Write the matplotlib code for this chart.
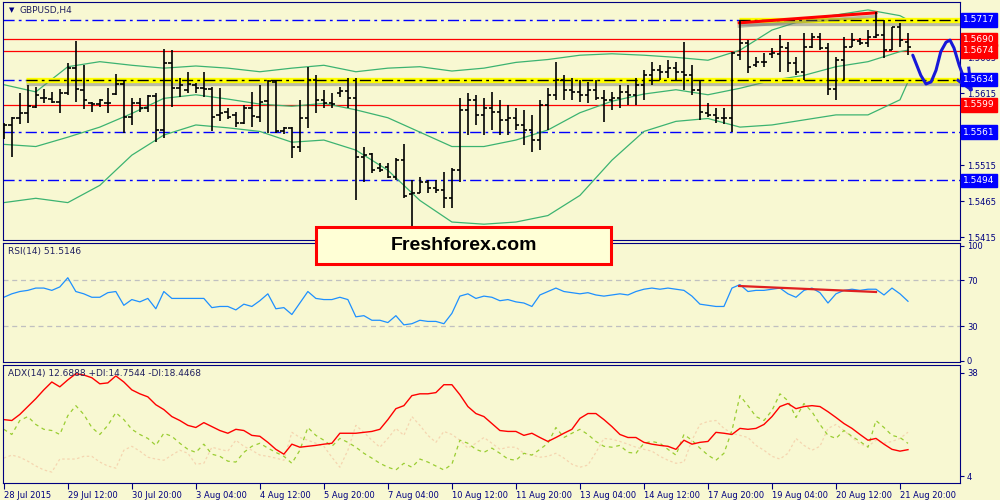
#!/usr/bin/env python3
'''
GBPUSD H4 chart with Bollinger bands, RSI and ADX panels
'''
import numpy as np
import matplotlib.pyplot as plt
import matplotlib.patheffects as pe
from matplotlib.patches import Rectangle

# ---- price bars (H4) ----
opens = [1.5561, 1.5571, 1.5581, 1.5587, 1.5596, 1.5608, 1.5607, 1.5603, 1.5615, 1.5650,
         1.5620, 1.5601, 1.5600, 1.5601, 1.5614, 1.5628, 1.5582, 1.5601, 1.5594, 1.5611,
         1.5564, 1.5657, 1.5622, 1.5620, 1.5627, 1.5622, 1.5621, 1.5585, 1.5589, 1.5585,
         1.5574, 1.5594, 1.5582, 1.5604, 1.5631, 1.5562, 1.5567, 1.5541, 1.5581, 1.5633,
         1.5606, 1.5601, 1.5615, 1.5618, 1.5608, 1.5526, 1.5530, 1.5511, 1.5512, 1.5498,
         1.5522, 1.5475, 1.5477, 1.5491, 1.5483, 1.5481, 1.5469, 1.5508, 1.5592, 1.5606,
         1.5585, 1.5594, 1.5589, 1.5578, 1.5581, 1.5571, 1.5564, 1.5550, 1.5599, 1.5613,
         1.5633, 1.5620, 1.5617, 1.5613, 1.5620, 1.5608, 1.5606, 1.5608, 1.5617, 1.5613,
         1.5627, 1.5640, 1.5647, 1.5645, 1.5650, 1.5645, 1.5640, 1.5620, 1.5587, 1.5585,
         1.5581, 1.5581, 1.5668, 1.5685, 1.5654, 1.5659, 1.5670, 1.5670, 1.5678, 1.5657,
         1.5645, 1.5679, 1.5693, 1.5678, 1.5621, 1.5661, 1.5679, 1.5688, 1.5685, 1.5693,
         1.5696, 1.5675, 1.5707, 1.5686]
highs = [1.5574, 1.5582, 1.5615, 1.5627, 1.5624, 1.5621, 1.5617, 1.5621, 1.5657, 1.5688,
         1.5654, 1.5603, 1.5607, 1.5622, 1.5642, 1.5632, 1.5608, 1.5608, 1.5613, 1.5615,
         1.5677, 1.5675, 1.5636, 1.5645, 1.5629, 1.5645, 1.5624, 1.5622, 1.5594, 1.5589,
         1.5599, 1.5617, 1.5627, 1.5633, 1.5633, 1.5568, 1.5568, 1.5606, 1.5652, 1.5640,
         1.5620, 1.5615, 1.5624, 1.5636, 1.5636, 1.5540, 1.5532, 1.5518, 1.5518, 1.5525,
         1.5544, 1.5494, 1.5498, 1.5494, 1.5495, 1.5505, 1.5511, 1.5608, 1.5615, 1.5613,
         1.5608, 1.5617, 1.5606, 1.5599, 1.5594, 1.5592, 1.5585, 1.5606, 1.5622, 1.5659,
         1.5640, 1.5636, 1.5633, 1.5631, 1.5633, 1.5620, 1.5617, 1.5627, 1.5627, 1.5636,
         1.5647, 1.5659, 1.5654, 1.5661, 1.5659, 1.5686, 1.5654, 1.5633, 1.5601, 1.5594,
         1.5594, 1.5673, 1.5717, 1.5689, 1.5666, 1.5671, 1.5678, 1.5696, 1.5686, 1.5666,
         1.5699, 1.5699, 1.5699, 1.5685, 1.5666, 1.5693, 1.5699, 1.5692, 1.5703, 1.5728,
         1.5717, 1.5707, 1.5713, 1.5699]
lows = [1.5551, 1.5526, 1.5572, 1.5574, 1.5594, 1.5601, 1.5601, 1.5587, 1.5613, 1.5603,
        1.5593, 1.5589, 1.5596, 1.5587, 1.5613, 1.5560, 1.5571, 1.5589, 1.5589, 1.5547,
        1.5553, 1.5596, 1.5610, 1.5615, 1.5615, 1.5610, 1.5562, 1.5576, 1.5579, 1.5568,
        1.5572, 1.5568, 1.5575, 1.5560, 1.5560, 1.5558, 1.5525, 1.5533, 1.5567, 1.5587,
        1.5594, 1.5594, 1.5610, 1.5594, 1.5466, 1.5491, 1.5504, 1.5505, 1.5497, 1.5494,
        1.5470, 1.5431, 1.5476, 1.5477, 1.5477, 1.5456, 1.5456, 1.5491, 1.5557, 1.5571,
        1.5557, 1.5564, 1.5557, 1.5557, 1.5564, 1.5543, 1.5533, 1.5536, 1.5564, 1.5606,
        1.5606, 1.5606, 1.5603, 1.5601, 1.5606, 1.5575, 1.5592, 1.5594, 1.5599, 1.5599,
        1.5606, 1.5627, 1.5633, 1.5636, 1.5633, 1.5620, 1.5613, 1.5578, 1.5582, 1.5574,
        1.5572, 1.5561, 1.5661, 1.5643, 1.5652, 1.5652, 1.5664, 1.5645, 1.5645, 1.5640,
        1.5633, 1.5678, 1.5675, 1.5613, 1.5606, 1.5633, 1.5679, 1.5682, 1.5679, 1.5692,
        1.5664, 1.5675, 1.5679, 1.5668]
closes = [1.5571, 1.5581, 1.5587, 1.5597, 1.5613, 1.5608, 1.5603, 1.5615, 1.5650, 1.5621,
          1.5606, 1.5600, 1.5606, 1.5601, 1.5628, 1.5582, 1.5601, 1.5594, 1.5611, 1.5564,
          1.5657, 1.5622, 1.5627, 1.5628, 1.5622, 1.5621, 1.5582, 1.5587, 1.5582, 1.5574,
          1.5594, 1.5583, 1.5603, 1.5632, 1.5562, 1.5567, 1.5540, 1.5581, 1.5633, 1.5606,
          1.5601, 1.5600, 1.5618, 1.5608, 1.5526, 1.5529, 1.5509, 1.5509, 1.5498, 1.5522,
          1.5472, 1.5477, 1.5491, 1.5484, 1.5481, 1.5470, 1.5509, 1.5592, 1.5606, 1.5585,
          1.5594, 1.5589, 1.5578, 1.5581, 1.5571, 1.5564, 1.5550, 1.5599, 1.5613, 1.5633,
          1.5620, 1.5617, 1.5613, 1.5620, 1.5608, 1.5606, 1.5608, 1.5617, 1.5613, 1.5627,
          1.5640, 1.5647, 1.5645, 1.5650, 1.5645, 1.5640, 1.5620, 1.5589, 1.5585, 1.5581,
          1.5581, 1.5671, 1.5685, 1.5652, 1.5659, 1.5659, 1.5671, 1.5679, 1.5657, 1.5645,
          1.5679, 1.5693, 1.5678, 1.5621, 1.5661, 1.5679, 1.5689, 1.5685, 1.5693, 1.5696,
          1.5675, 1.5707, 1.5689, 1.5679]

# ---- Bollinger bands, read every 4 bars ----
bb_idx = list(range(0, 113, 4)) + [113]
bb_upper = [1.5627, 1.5617, 1.5652, 1.5659, 1.5654, 1.5650, 1.5653, 1.5650, 1.5645, 1.5650,
            1.5654, 1.5645, 1.5650, 1.5652, 1.5646, 1.5650, 1.5658, 1.5662, 1.5668, 1.5670,
            1.5668, 1.5665, 1.5661, 1.5675, 1.5703, 1.5717, 1.5724, 1.5731, 1.5723, 1.5717]
bb_middle = [1.5544, 1.5541, 1.5554, 1.5568, 1.5587, 1.5608, 1.5613, 1.5607, 1.5600, 1.5597,
             1.5601, 1.5592, 1.5581, 1.5561, 1.5541, 1.5541, 1.5550, 1.5564, 1.5588, 1.5604,
             1.5614, 1.5620, 1.5613, 1.5622, 1.5633, 1.5640, 1.5652, 1.5659, 1.5673, 1.5675]
bb_lower = [1.5463, 1.5469, 1.5463, 1.5487, 1.5529, 1.5557, 1.5571, 1.5567, 1.5562, 1.5547,
            1.5550, 1.5536, 1.5508, 1.5466, 1.5436, 1.5433, 1.5436, 1.5445, 1.5473, 1.5522,
            1.5562, 1.5576, 1.5580, 1.5568, 1.5571, 1.5578, 1.5585, 1.5585, 1.5606, 1.5631]

# ---- indicators ----
rsi = [55, 58, 60, 61, 63, 63, 61, 64, 72, 60,
       58, 55, 55, 59, 60, 48, 53, 51, 54, 45,
       60, 54, 54, 54, 54, 54, 46, 47, 47, 44,
       49, 47, 52, 58, 45, 46, 40, 50, 60, 54,
       53, 53, 55, 53, 38, 39, 35, 35, 33, 39,
       31, 32, 35, 34, 34, 32, 41, 56, 58, 54,
       56, 55, 52, 53, 51, 50, 47, 57, 60, 63,
       60, 59, 58, 59, 57, 56, 57, 58, 57, 60,
       62, 63, 62, 63, 62, 61, 56, 49, 48, 47,
       47, 63, 66, 60, 61, 61, 62, 63, 58, 55,
       61, 63, 59, 50, 58, 61, 62, 61, 62, 62,
       57, 63, 58, 51.5146]
adx = [22.6, 22.3, 24.3, 26.9, 29.5, 32.4, 35.0, 33.4, 35.7, 37.7,
       37.3, 36.4, 34.4, 34.7, 37.0, 35.0, 32.4, 31.1, 30.1, 27.5,
       25.9, 23.6, 22.3, 20.7, 20.0, 21.6, 20.3, 19.0, 18.1, 19.4,
       19.0, 17.4, 17.1, 15.1, 12.8, 11.2, 14.5, 13.5, 13.8, 14.1,
       14.5, 14.8, 18.1, 18.1, 18.1, 18.4, 18.7, 19.4, 22.6, 26.2,
       27.2, 30.5, 31.1, 31.1, 31.5, 34.1, 34.1, 30.8, 26.9, 24.6,
       23.6, 21.3, 19.0, 18.7, 18.7, 17.4, 18.1, 16.7, 15.4, 16.7,
       18.1, 19.4, 23.0, 24.6, 24.6, 22.6, 20.3, 17.7, 16.7, 16.7,
       15.1, 14.5, 14.1, 13.8, 12.8, 15.8, 14.5, 15.1, 15.4, 18.4,
       18.1, 17.7, 19.7, 19.4, 19.7, 21.0, 23.6, 26.9, 27.9, 26.2,
       26.9, 27.2, 26.9, 25.2, 23.3, 21.3, 19.7, 17.7, 15.8, 16.4,
       14.5, 12.8, 12.2, 12.6888]
plus_di = [19.4, 17.7, 22.3, 23.6, 21.0, 19.4, 19.0, 17.7, 23.9, 27.2,
           24.3, 20.0, 17.7, 20.7, 24.9, 22.6, 19.4, 17.7, 16.4, 14.1,
           18.1, 17.1, 14.8, 12.8, 11.8, 14.5, 11.2, 10.5, 8.9, 8.6,
           11.8, 13.8, 14.8, 13.2, 11.8, 10.5, 8.2, 12.5, 20.0, 17.4,
           15.8, 13.8, 16.4, 15.1, 13.5, 11.5, 9.9, 8.2, 6.9, 6.0,
           8.2, 6.9, 9.6, 8.6, 7.3, 6.0, 7.9, 15.8, 14.8, 12.8,
           11.8, 13.2, 11.5, 9.6, 9.2, 11.5, 10.9, 12.8, 14.8, 20.0,
           16.7, 18.1, 19.4, 17.7, 15.4, 13.8, 13.5, 14.1, 11.8, 11.5,
           14.8, 15.4, 14.8, 12.8, 10.9, 17.7, 15.8, 13.2, 10.9, 9.2,
           11.5, 19.0, 30.5, 27.2, 23.6, 22.3, 25.6, 31.1, 28.8, 23.3,
           27.9, 25.2, 21.0, 17.4, 16.4, 19.0, 17.1, 15.4, 13.5, 22.3,
           20.0, 17.4, 16.7, 14.7544]
minus_di = [9.9, 10.9, 10.2, 8.9, 7.3, 6.0, 5.3, 9.6, 9.6, 9.6,
            10.5, 10.5, 8.6, 7.3, 6.6, 12.5, 13.8, 12.2, 10.2, 9.6,
            9.2, 10.9, 12.5, 11.5, 7.9, 8.2, 13.5, 12.8, 12.2, 15.8,
            13.8, 12.5, 10.9, 10.5, 9.9, 9.2, 18.4, 16.7, 15.8, 14.8,
            13.8, 10.2, 6.9, 12.5, 20.7, 18.4, 15.8, 13.5, 16.4, 19.7,
            17.4, 23.6, 20.7, 17.4, 15.1, 18.7, 17.7, 15.8, 13.2, 14.8,
            16.7, 14.8, 12.8, 13.5, 13.5, 11.5, 10.9, 10.2, 10.5, 11.5,
            9.9, 7.9, 6.9, 7.6, 11.8, 16.4, 16.1, 15.4, 14.5, 13.5,
            12.8, 12.2, 10.5, 9.2, 8.2, 8.6, 15.8, 21.0, 22.0, 22.3,
            19.7, 18.1, 17.4, 16.7, 14.1, 12.5, 10.5, 9.6, 11.5, 16.4,
            14.1, 12.5, 13.8, 19.7, 21.0, 19.0, 16.7, 14.5, 13.8, 15.8,
            14.8, 15.4, 16.4, 18.4468]

# ---- levels and drawings ----
blue_levels = [1.5717, 1.5634, 1.5561, 1.5494]
red_levels = [1.5690, 1.5674, 1.5599]
# scale labels that are not hidden behind a level box
price_ticks = [1.5415, 1.5465, 1.5515, 1.5615, 1.5665]
time_labels = ['28 Jul 2015', '29 Jul 12:00', '30 Jul 20:00', '3 Aug 04:00',
               '4 Aug 12:00', '5 Aug 20:00', '7 Aug 04:00', '10 Aug 12:00',
               '11 Aug 20:00', '13 Aug 04:00', '14 Aug 12:00', '17 Aug 20:00',
               '19 Aug 04:00', '20 Aug 12:00', '21 Aug 20:00']
# hand drawn forecast path (bar index, price)
path_x = [113.6, 114.1, 114.6, 115.25, 115.9, 116.5, 117.1, 117.75, 118.25, 118.75, 119.4, 120.0, 120.9]
path_y = [1.5668, 1.5654, 1.5640, 1.5628, 1.5631, 1.5647, 1.5673, 1.5686, 1.5689, 1.5678, 1.5654, 1.5636, 1.5620]

BG = '#F8F8D2'
NAVY = '#000080'


def draw():
    fig = plt.figure(figsize=(10, 5), dpi=100, facecolor=BG)
    ax1 = fig.add_axes([0.003, 0.52, 0.957, 0.476])
    ax2 = fig.add_axes([0.003, 0.276, 0.957, 0.238])
    ax3 = fig.add_axes([0.003, 0.034, 0.957, 0.236])

    idx = np.arange(len(closes))
    for ax in (ax1, ax2, ax3):
        ax.set_facecolor(BG)
        ax.set_xlim(-0.1, 119.5)
        for s in ax.spines.values():
            s.set_color(NAVY)
        ax.yaxis.tick_right()
        ax.tick_params(axis='y', colors=NAVY, labelsize=6, length=3, pad=2)
        ax.tick_params(axis='x', colors=NAVY)

    # main panel
    ax1.set_ylim(1.5411, 1.5742)
    ax1.set_xticks([])
    ax1.set_yticks(price_ticks)
    ax1.set_yticklabels(['%.4f' % p for p in price_ticks])

    for lv in red_levels:
        ax1.axhline(lv, color='red', lw=0.9)
    for lv in blue_levels:
        ax1.axhline(lv, color='blue', lw=1, linestyle=(0, (8, 3, 2, 3)))

    shadow = [pe.SimpleLineShadow(offset=(0, -2.5), shadow_color='#707070', alpha=0.45), pe.Normal()]
    ax1.plot([2.75, 119.6], [1.5634, 1.5634], color='yellow', lw=3.8,
             solid_capstyle='butt', path_effects=shadow, zorder=3)
    ax1.plot([2.75, 119.6], [1.5634, 1.5634], color='black', lw=1,
             linestyle=(0, (8, 3, 2, 3)), zorder=4)
    ax1.plot([91.9, 119.6], [1.5717, 1.5717], color='yellow', lw=3.8,
             solid_capstyle='butt', path_effects=shadow, zorder=3)
    ax1.plot([91.9, 119.6], [1.5717, 1.5717], color='black', lw=1,
             linestyle=(0, (8, 3, 2, 3)), zorder=4)
    ax1.plot([91.9, 109], [1.5713, 1.5727], color='red', lw=2.2,
             path_effects=shadow, zorder=4)

    ax1.plot(bb_idx, bb_upper, color='#3CB371', lw=0.9, zorder=2)
    ax1.plot(bb_idx, bb_middle, color='#3CB371', lw=0.9, zorder=2)
    ax1.plot(bb_idx, bb_lower, color='#3CB371', lw=0.9, zorder=2)

    ax1.vlines(idx, lows, highs, color='black', lw=1.2, zorder=5)
    ax1.hlines(opens, idx - 0.42, idx, color='black', lw=1.2, zorder=5)
    ax1.hlines(closes, idx, idx + 0.42, color='black', lw=1.2, zorder=5)

    ax1.plot(path_x, path_y, color='#1818D8', lw=2.2, clip_on=False, zorder=8,
             solid_capstyle='round', solid_joinstyle='round')
    ax1.plot([120.6, 120.9, 119.25], [1.5650, 1.5620, 1.5633], color='#1818D8',
             lw=2.2, clip_on=False, zorder=8, solid_joinstyle='round')

    for lv in blue_levels + red_levels:
        col = 'blue' if lv in blue_levels else 'red'
        ax1.text(1.003, lv, '%.4f' % lv, transform=ax1.get_yaxis_transform(),
                 color='white', fontsize=6.5, va='center', ha='left', zorder=9,
                 bbox=dict(boxstyle='square,pad=0.25', fc=col, ec=col))

    ax1.text(0.006, 0.965, '\u25bc', transform=ax1.transAxes, fontsize=5,
             color=NAVY, va='center')
    ax1.text(0.017, 0.965, 'GBPUSD,H4', transform=ax1.transAxes, fontsize=6.5,
             color='#202060', va='center')

    # RSI panel
    ax2.set_ylim(-1.3, 102.2)
    ax2.set_xticks([])
    ax2.set_yticks([0, 30, 70, 100])
    ax2.axhline(70, color='#C0C0C0', lw=0.9, linestyle=(0, (4, 3)))
    ax2.axhline(30, color='#C0C0C0', lw=0.9, linestyle=(0, (4, 3)))
    ax2.plot(idx, rsi, color='#1E90FF', lw=0.9)
    ax2.plot([91.9, 109], [64.8, 59.6], color='#E02020', lw=1.6)
    ax2.text(0.005, 0.93, 'RSI(14) 51.5146', transform=ax2.transAxes,
             fontsize=6.5, color='#202060', va='center')

    # ADX panel
    ax3.set_ylim(1.7, 40.6)
    ax3.set_yticks([4, 38])
    ax3.plot(idx, minus_di, color='#F5D5B0', lw=0.9, linestyle=(0, (2, 2)))
    ax3.plot(idx, plus_di, color='#9ACD32', lw=0.9, linestyle=(0, (3, 3)))
    ax3.plot(idx, adx, color='red', lw=1)
    ax3.text(0.005, 0.93, 'ADX(14) 12.6888 +DI:14.7544 -DI:18.4468',
             transform=ax3.transAxes, fontsize=6.5, color='#202060', va='center')

    ax3.set_xticks(np.arange(0, 113, 8))
    ax3.set_xticklabels(time_labels, fontsize=6, color=NAVY, ha='left')
    ax3.tick_params(axis='x', length=4, pad=2)

    # watermark box
    fig.add_artist(Rectangle((0.316, 0.472), 0.295, 0.074, transform=fig.transFigure,
                             fc='#FFFFD6', ec='red', lw=2.2, zorder=10))
    fig.text(0.4635, 0.509, 'Freshforex.com', fontsize=14, fontweight='bold',
             family='Liberation Sans', ha='center', va='center', zorder=11)

    fig.savefig('out.png', dpi=100, facecolor=BG)


draw()
